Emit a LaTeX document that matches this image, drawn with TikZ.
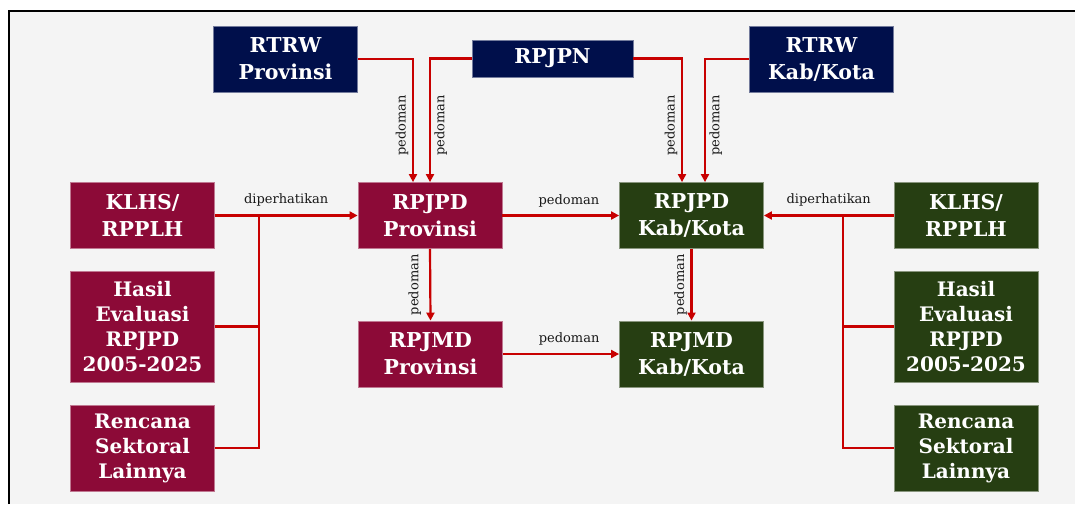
\documentclass[tikz,border=0pt]{standalone}
\usepackage{fontspec}
\setmainfont{DejaVu Serif}
\usetikzlibrary{arrows.meta}
\definecolor{planblue}{RGB}{0,15,75}
\definecolor{planmaroon}{RGB}{140,10,55}
\definecolor{plangreen}{RGB}{38,62,18}
\definecolor{linkred}{RGB}{200,0,0}
\definecolor{paper}{RGB}{244,244,244}
\tikzset{plan/.style={fill=#1, draw=#1!55!white, line width=0.8pt, text=white,
  font=\bfseries\fontsize{20.5}{27}\selectfont, align=center,
  minimum width=144pt, minimum height=66pt, inner sep=0pt},
%default colour is the dark blue of the top row
plan/.default={planblue},
tall/.style={font=\bfseries\fontsize{20}{25}\selectfont},
wire/.style={draw=linkred, line width=2.2pt},
link/.style={wire, -{Triangle[length=8pt,width=8pt]}},
tag/.style={font=\fontsize{13}{15}\selectfont, text=black!90, inner sep=3.5pt}}

\begin{document}
\begin{tikzpicture}[x=1pt,y=-1pt]
\useasboundingbox (0,0) rectangle (1075,504);
% frame
\fill[paper] (9,11) rectangle (1075,504);
\draw[line width=2.5pt] (9,504) -- (9,11) -- (1075,11);

% top row
\node[plan] (rtrwprov) at (285.5,59) {RTRW\\Provinsi};
\node[plan, minimum width=161pt, minimum height=37pt] (rpjpn) at (552.5,58.5) {RPJPN};
\node[plan] (rtrwkab) at (821.5,59) {RTRW\\Kab/Kota};

% provinsi side
\node[plan=planmaroon] (klhsl) at (142.5,215.5) {KLHS/\\RPPLH};
\node[plan=planmaroon, tall, minimum height=111pt] (hasill) at (142.5,326.5) {Hasil\\Evaluasi\\RPJPD\\2005-2025};
\node[plan=planmaroon, tall, minimum height=86pt] (rencanal) at (142.5,448) {Rencana\\Sektoral\\Lainnya};
\node[plan=planmaroon] (rpjpdprov) at (430,215.5) {RPJPD\\Provinsi};
\node[plan=planmaroon] (rpjmdprov) at (430.5,354) {RPJMD\\Provinsi};

% kab/kota side
\node[plan=plangreen] (rpjpdkab) at (691.5,215.5) {RPJPD\\Kab/Kota};
\node[plan=plangreen] (rpjmdkab) at (691.5,354) {RPJMD\\Kab/Kota};
\node[plan=plangreen] (klhsr) at (966,215.5) {KLHS/\\RPPLH};
\node[plan=plangreen, tall, minimum height=111pt] (hasilr) at (966,326.5) {Hasil\\Evaluasi\\RPJPD\\2005-2025};
\node[plan=plangreen, tall, minimum height=86pt] (rencanar) at (966,448) {Rencana\\Sektoral\\Lainnya};

% pedoman from the top row
\draw[link] (rtrwprov.east) -| node[tag, pos=0.77, rotate=90, anchor=south] (ped1) {pedoman} ([xshift=-17pt]rpjpdprov.north);
\draw[link] (rpjpn.west) -| node[tag, pos=0.77, rotate=90, anchor=north] (ped2) {pedoman} (rpjpdprov.north);
\draw[link] (rpjpn.east) -| node[tag, pos=0.77, rotate=90, anchor=south] (ped3) {pedoman} ([xshift=-9.5pt]rpjpdkab.north);
\draw[link] (rtrwkab.west) -| node[tag, pos=0.77, rotate=90, anchor=north] (ped4) {pedoman} ([xshift=13.5pt]rpjpdkab.north);

% pedoman in the middle
\draw[link] (rpjpdprov.east) -- node[tag, pos=0.57, above=4pt] (ped5) {pedoman} (rpjpdkab.west);
\draw[link] (rpjmdprov.east) -- node[tag, pos=0.57, above=4pt] (ped6) {pedoman} (rpjmdkab.west);
\draw[link] (rpjpdprov.south) -- node[tag, rotate=90, anchor=south, inner sep=8pt] (ped7) {pedoman} (rpjmdprov.north);
\draw[link] (rpjpdkab.south) -- node[tag, rotate=90, anchor=south] (ped8) {pedoman} (rpjmdkab.north);

% diperhatikan
\coordinate (busl) at (259,215.5);
\coordinate (busr) at (843,215.5);
\draw[link] (klhsl.east) -- node[tag, above=5pt] (dipl) {diperhatikan} (rpjpdprov.west);
\draw[link] (klhsr.west) -- node[tag, above=5pt] (dipr) {diperhatikan} (rpjpdkab.east);
\foreach \n in {hasill,rencanal}
     \draw[wire] (\n.east) -| (busl);
\foreach \n in {hasilr,rencanar}
     \draw[wire] (\n.west) -| (busr);

\end{tikzpicture}
\end{document}
